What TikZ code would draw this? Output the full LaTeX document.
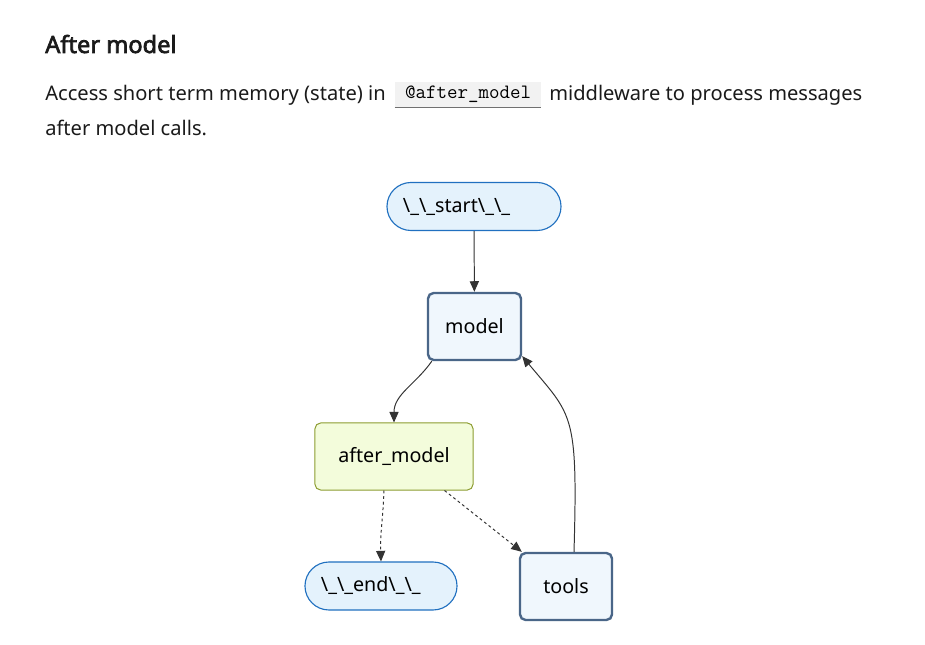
\documentclass[tikz,border=0pt]{standalone}
\usepackage{fontspec}
\setmainfont{Noto Sans}[AutoFakeBold=2.8]
\usetikzlibrary{arrows.meta,shapes.misc}
\definecolor{inkcol}{HTML}{1A1A1A}
\definecolor{termfill}{HTML}{E4F2FC}
\definecolor{termline}{HTML}{2070C0}
\definecolor{procfill}{HTML}{F0F7FD}
\definecolor{procline}{HTML}{4A6688}
\definecolor{hookfill}{HTML}{F3FCDB}
\definecolor{hookline}{HTML}{8C9C30}
\definecolor{edgecol}{HTML}{333333}
\definecolor{codefill}{HTML}{F2F2F2}
\tikzstyle{txt}=[anchor=base west,inner sep=0pt,text=inkcol,font=\fontsize{14.3}{17}\selectfont]
\tikzstyle{term}=[rectangle,rounded corners=0.6cm,draw=termline,fill=termfill,line width=0.8pt,minimum height=1.2cm,inner xsep=0.4cm,align=left,font=\fontsize{14}{16}\selectfont]
\tikzstyle{proc}=[rectangle,rounded corners=4pt,draw=procline,fill=procfill,line width=1.7pt,minimum height=1.675cm,font=\fontsize{14}{16}\selectfont]
\tikzstyle{hook}=[rectangle,rounded corners=4pt,draw=hookline,fill=hookfill,line width=0.7pt,minimum height=1.675cm,font=\fontsize{14}{16}\selectfont]
\tikzstyle{edge}=[-{Triangle[length=7.5pt,width=6.5pt]},draw=edgecol,line width=0.7pt]

\begin{document}
\begin{tikzpicture}[x=0.025cm,y=0.025cm]
\useasboundingbox (0,0) rectangle (925,644);
\node[txt,font=\bfseries\fontsize{16.8}{20}\selectfont] (title) at (45,591) {After model};
\node[txt] (line1) at (45,543) {Access short term memory (state) in};
\node[rectangle,fill=codefill,minimum width=3.65cm,minimum height=0.625cm,inner sep=0pt,font=\ttfamily\fontsize{14.5}{16}\selectfont] (deco) at (468,549.5) {@after\_model};
\draw[edgecol!70,line width=0.6pt] (deco.south west) -- (deco.south east);
\node[txt] (line2) at (549,543) {middleware to process messages};
\node[txt] (line3) at (45,508) {after model calls.};
% graph
\node[term,text width=3.55cm] (start) at (474,437.5) {\textbackslash\_\textbackslash\_start\textbackslash\_\textbackslash\_};
\node[proc,minimum width=2.325cm] (model) at (474.5,317.5) {model};
\node[hook,minimum width=3.95cm] (after_model) at (394,187.5) {after\_model};
\node[term,text width=3.0cm] (end) at (381,58) {\textbackslash\_\textbackslash\_end\textbackslash\_\textbackslash\_};
\node[proc,minimum width=2.3cm] (tools) at (566,57.5) {tools};
\draw[edge] (start) -- (model);
\draw[edge] ([xshift=0.125cm]model.south west) to[out=235,in=90] (after_model.north);
\draw[edge,dash pattern=on 2pt off 2pt] ([xshift=-0.25cm]after_model.south) to[out=268,in=92] (end.north);
\draw[edge,dash pattern=on 2pt off 2pt] ([xshift=-0.725cm]after_model.south east) -- ([xshift=0.075cm]tools.north west);
\draw[edge] ([xshift=0.2cm]tools.north) .. controls +(4,140) and +(50,-60) .. ([yshift=0.125cm]model.south east);
\end{tikzpicture}
\end{document}
